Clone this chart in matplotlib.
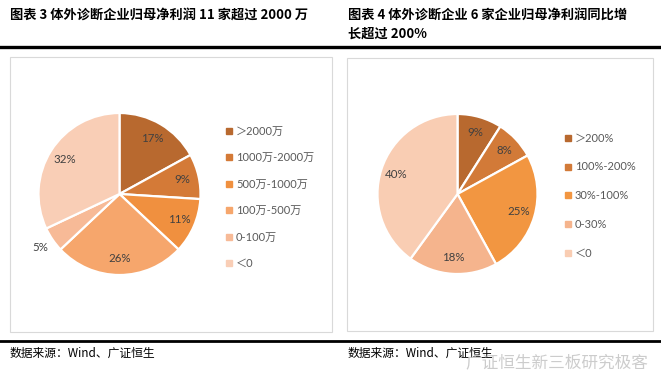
import matplotlib
matplotlib.use('Agg')
import matplotlib.pyplot as plt
from matplotlib.patches import Rectangle
from matplotlib.lines import Line2D
import numpy as np

plt.rcParams['font.family'] = ['Lato', 'Noto Sans CJK SC', 'DejaVu Sans']

# data
left_labels = ['＞2000万', '1000万-2000万', '500万-1000万', '100万-500万', '0-100万', '＜0']
left_values = [17, 9, 11, 26, 5, 32]
left_colors = ['#B8692F', '#D47A37', '#F0903F', '#F6A66C', '#F7BA97', '#F9CEB6']

right_labels = ['＞200%', '100%-200%', '30%-100%', '0-30%', '＜0']
right_values = [9, 8, 25, 18, 40]
right_colors = ['#B8692F', '#D27A38', '#F29641', '#F5B48D', '#F9CDB3']

title_left = '图表 3 体外诊断企业归母净利润 11 家超过 2000 万'
title_right = '图表 4 体外诊断企业 6 家企业归母净利润同比增\n长超过 200%'
source = '数据来源：Wind、广证恒生'
watermark = '广证恒生新三板研究极客'

W, H = 661, 392
fig = plt.figure(figsize=(W / 100, H / 100), dpi=100)


def px_axes(cx, cy, half=100):
    # square axes where one data unit == one pixel, centred at pixel (cx, cy)
    ax = fig.add_axes([(cx - half) / W, (H - cy - half) / H, 2 * half / W, 2 * half / H])
    ax.set_xlim(-half, half)
    ax.set_ylim(-half, half)
    ax.axis('off')
    return ax


def draw_pie(cx, cy, r, values, colors, labels, leg_x, leg_y, spacing):
    ax = px_axes(cx, cy)
    wedges, texts, autotexts = ax.pie(
        values, colors=colors, startangle=90, counterclock=False, radius=r,
        center=(0, 0), autopct=lambda p: f'{p:.0f}%', pctdistance=0.8,
        wedgeprops=dict(edgecolor='white', linewidth=1.6),
        textprops=dict(fontsize=8.3, color='#404040'))
    ax.set_xlim(-100, 100)
    ax.set_ylim(-100, 100)
    for w, t, v in zip(wedges, autotexts, values):
        if v < 6:
            ang = np.deg2rad((w.theta1 + w.theta2) / 2)
            t.set_position((1.18 * r * np.cos(ang), 1.18 * r * np.sin(ang)))
    handles = [Line2D([], [], marker='s', linestyle='none', markersize=3.8,
                      markerfacecolor=c, markeredgecolor=c) for c in colors]
    fs = 8
    fig.legend(handles, labels, loc='center left', frameon=False,
               bbox_to_anchor=((leg_x - 6) / W, 1 - (leg_y + spacing * (len(labels) - 1) / 2) / H),
               fontsize=fs, labelcolor='#595959', handlelength=0.6,
               handletextpad=0.3, labelspacing=(spacing - fs * 1.39) / (fs * 1.39),
               borderaxespad=0, borderpad=0)


draw_pie(119.5, 194, 81, left_values, left_colors, left_labels, 232, 131, 26.6)
draw_pie(457.5, 194, 80, right_values, right_colors, right_labels, 571, 138, 28.8)

# frames around the charts
for x0, y0, x1, y1 in [(10, 57, 332, 332), (347, 58, 653, 331)]:
    fig.patches.append(Rectangle((x0 / W, 1 - y1 / H), (x1 - x0) / W, (y1 - y0) / H,
                                 transform=fig.transFigure, fill=False,
                                 edgecolor='#D9D9D9', linewidth=0.8))

# thick rules
for y, lw in [(47, 2.4), (341, 2.0)]:
    fig.add_artist(Line2D([0, 1], [1 - y / H, 1 - y / H], transform=fig.transFigure,
                          color='black', linewidth=lw))

tfont = ['Noto Sans CJK SC', 'DejaVu Sans']
fig.text(10 / W, 1 - 15 / H, title_left, fontsize=9.5, fontweight='bold',
         family=tfont, va='center', ha='left')
fig.text(348 / W, 1 - 24 / H, title_right, fontsize=9.5, fontweight='bold',
         family=tfont, va='center', ha='left', linespacing=1.45)

fig.text(10 / W, 1 - 353 / H, source, fontsize=8.5, family=tfont, va='center')
fig.text(348 / W, 1 - 353 / H, source, fontsize=8.5, family=tfont, va='center')
fig.text(465 / W, 1 - 363 / H, watermark, fontsize=12, family=tfont, va='center',
         color='#C4C4C4', alpha=0.85)

fig.savefig('out.png', dpi=100)
